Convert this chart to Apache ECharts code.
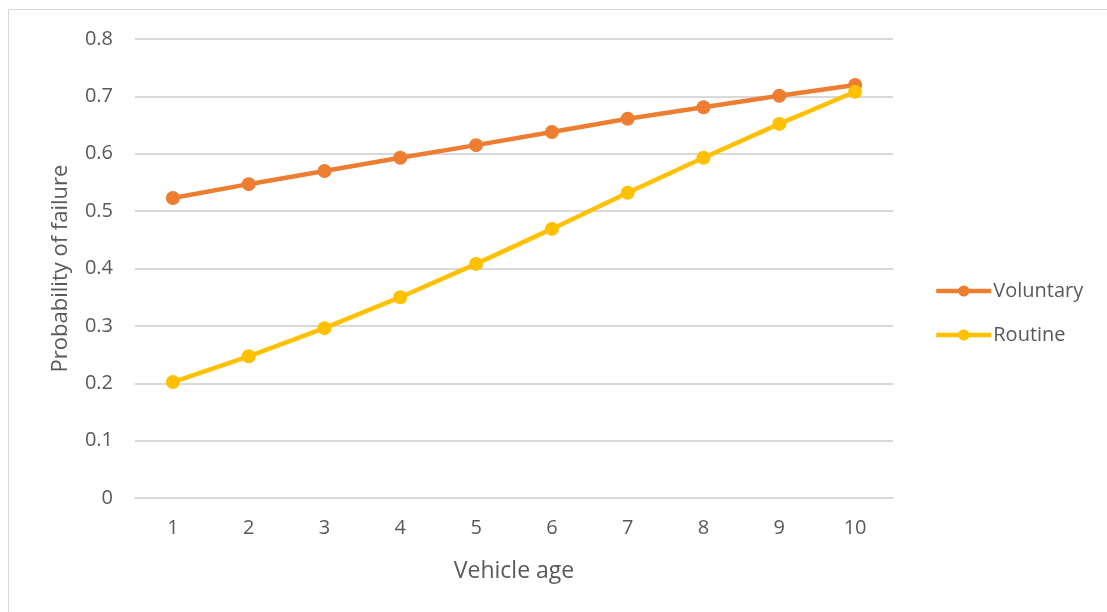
<!DOCTYPE html>
<html>
<head>
<meta charset="utf-8">
<script src="https://cdn.jsdelivr.net/npm/echarts@6/dist/echarts.min.js"></script>
<style>
  html, body { margin: 0; padding: 0; background: #fff; }
  #frame { position: absolute; left: 8px; top: 9px; width: 1120px; height: 620px; border: 1px solid #d9d9d9; box-sizing: border-box; }
  #chart { position: absolute; left: 0; top: 0; width: 1107px; height: 612px; }
</style>
</head>
<body>
<div id="frame"></div>
<div id="chart"></div>
<script>
// vehicle age categories
const ages = ['1', '2', '3', '4', '5', '6', '7', '8', '9', '10'];
// probability of failure per series
const voluntary = [0.523, 0.547, 0.570, 0.593, 0.615, 0.638, 0.661, 0.681, 0.701, 0.720];
const routine = [0.202, 0.247, 0.296, 0.350, 0.408, 0.469, 0.532, 0.593, 0.652, 0.708];

const font = 'Open Sans, Liberation Sans, sans-serif';
const chart = echarts.init(document.getElementById('chart'));

function lineSeries(name, data, color) {
  return {
    name: name,
    type: 'line',
    data: data,
    symbol: 'circle',
    symbolSize: 14,
    lineStyle: { width: 4.5, color: color },
    itemStyle: { color: color },
    emphasis: { disabled: true }
  };
}

chart.setOption({
  animation: false,
  grid: { left: 135, right: 214, top: 39, bottom: 114 },
  legend: {
    orient: 'vertical',
    left: 929,
    top: 276,
    itemWidth: 55,
    itemHeight: 14,
    itemGap: 24,
    lineStyle: { width: 4.5 },
    textStyle: { fontFamily: font, fontSize: 20, color: '#595959', padding: [0, 0, 0, -3] },
    data: ['Voluntary', 'Routine']
  },
  xAxis: {
    type: 'category',
    data: ages,
    name: 'Vehicle age',
    nameLocation: 'middle',
    nameGap: 62,
    nameTextStyle: { fontFamily: font, fontSize: 23, color: '#595959' },
    axisLine: { lineStyle: { color: '#d9d9d9', width: 2 } },
    axisTick: { show: false },
    axisLabel: { fontFamily: font, fontSize: 20, color: '#595959', margin: 20 }
  },
  yAxis: {
    type: 'value',
    min: 0,
    max: 0.8,
    interval: 0.1,
    name: 'Probability of failure',
    nameLocation: 'middle',
    nameGap: 63,
    nameTextStyle: { fontFamily: font, fontSize: 22, color: '#595959' },
    axisLine: { show: false },
    axisTick: { show: false },
    axisLabel: { fontFamily: font, fontSize: 20, color: '#595959', margin: 22,
      formatter: v => (Math.round(v * 10) / 10).toString() },
    splitLine: { lineStyle: { color: '#d9d9d9', width: 2 } }
  },
  series: [
    lineSeries('Voluntary', voluntary, '#ED7D31'),
    lineSeries('Routine', routine, '#FFC000')
  ]
});
</script>
</body>
</html>
